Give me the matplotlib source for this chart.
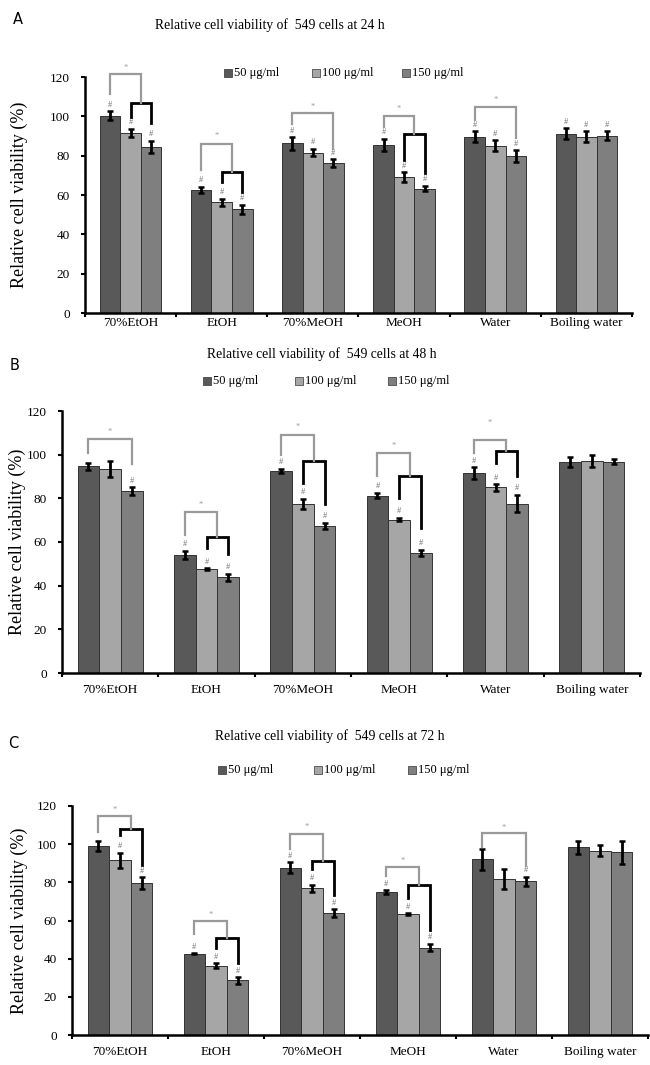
import matplotlib
matplotlib.use('Agg')
import matplotlib.pyplot as plt
import numpy as np

# ---------------- data ----------------
categories = ['70%EtOH', 'EtOH', '70%MeOH', 'MeOH', 'Water', 'Boiling water']
series_labels = ['50 μg/ml', '100 μg/ml', '150 μg/ml']
titles = ['Relative cell viability of  549 cells at 24 h',
          'Relative cell viability of  549 cells at 48 h',
          'Relative cell viability of  549 cells at 72 h']
panel_letters = ['A', 'B', 'C']
y_ticks = [0, 20, 40, 60, 80, 100, 120]

# 24 h
a_50 = [100.4, 62.6, 86.3, 85.6, 89.7, 91.2]
a_100 = [91.7, 56.2, 81.6, 69.2, 85.1, 89.7]
a_150 = [84.6, 52.8, 76.1, 63.3, 79.7, 90.2]
a_50_err = [2.2, 1.7, 3.2, 3.0, 2.9, 2.8]
a_100_err = [2.0, 2.0, 2.0, 2.4, 2.9, 2.9]
a_150_err = [3.0, 2.3, 2.1, 1.5, 3.0, 2.4]
a_hash = [[1, 1, 1], [1, 1, 1], [1, 1, 1], [1, 1, 1], [1, 1, 1], [1, 1, 1]]
a_bracket = ['nested', 'nested', 'pair', 'nested', 'pair', 'none']
a_gray = [[121.3, 111.5, 0], [85.7, 72.6, 0], [101.9, 95.9, 83.6], [100.2, 94.6, 0], [104.7, 98.0, 89.2], [0, 0, 0]]
a_black = [[107.0, 99.7, 96.6], [71.7, 66.7, 61.6], [0, 0, 0], [90.9, 77.7, 71.0], [0, 0, 0], [0, 0, 0]]
a_star = [124.7, 89.9, 104.7, 103.9, 108.5, 0]

# 48 h
b_50 = [94.7, 54.0, 92.6, 81.2, 91.6, 96.8]
b_100 = [93.3, 47.5, 77.3, 70.3, 85.0, 97.1]
b_150 = [83.4, 43.8, 67.4, 55.0, 77.6, 96.8]
b_50_err = [1.7, 2.0, 1.0, 1.2, 2.6, 2.3]
b_100_err = [3.7, 0.4, 2.4, 0.7, 1.5, 2.6]
b_150_err = [1.7, 1.7, 1.3, 1.4, 4.0, 1.0]
b_hash = [[0, 0, 1], [1, 1, 1], [1, 1, 1], [1, 1, 1], [1, 1, 1], [0, 0, 0]]
b_bracket = ['pair', 'nested', 'nested', 'nested', 'nested', 'none']
b_gray = [[107.2, 100.7, 95.6], [73.7, 63.1, 0], [109.2, 99.8, 0], [100.7, 90.4, 0], [106.7, 100.7, 0], [0, 0, 0]]
b_black = [[0, 0, 0], [62.3, 57.2, 54.6], [97.3, 87.0, 77.6], [90.4, 80.2, 66.2], [101.5, 96.4, 90.4], [0, 0, 0]]
b_star = [110.6, 77.1, 112.6, 103.8, 114.7, 0]

# 72 h
c_50 = [99.2, 42.6, 87.7, 74.9, 92.0, 98.4]
c_100 = [91.5, 36.3, 76.8, 63.5, 81.6, 96.5]
c_150 = [79.7, 28.6, 64.0, 45.8, 80.5, 95.7]
c_50_err = [2.7, 0.4, 2.7, 1.1, 5.4, 3.4]
c_100_err = [4.0, 1.4, 2.0, 0.4, 5.3, 2.9]
c_150_err = [3.1, 1.8, 2.0, 2.0, 2.5, 6.2]
c_hash = [[0, 1, 1], [1, 1, 1], [1, 1, 1], [1, 1, 1], [0, 0, 1], [0, 0, 0]]
c_bracket = ['nested', 'nested', 'nested', 'nested', 'pair', 'none']
c_gray = [[115.0, 106.4, 0], [60.0, 52.8, 0], [105.4, 97.6, 0], [88.0, 83.2, 0], [105.6, 98.4, 88.8], [0, 0, 0]]
c_black = [[108.0, 104.8, 89.1], [50.7, 45.6, 37.6], [91.2, 87.2, 73.6], [78.7, 72.0, 55.2], [0, 0, 0], [0, 0, 0]]
c_star = [118.1, 63.2, 108.8, 91.2, 108.6, 0]

# ---------------- style ----------------
W, H = 650, 1065
colors = ['#595959', '#a6a6a6', '#7f7f7f']
serif = ['Liberation Serif', 'DejaVu Serif']
plt.rcParams['font.family'] = serif

fig = plt.figure(figsize=(W / 100, H / 100), dpi=100)

def fx(px):
    return px / W

def fy(py):
    return 1 - py / H

# axes boxes in pixels: left, right, top(120), bottom(0)
boxes = [(85, 632, 77, 313), (62, 640, 411, 673), (72, 648, 806, 1035)]
title_pos = [(270, 25), (322, 354), (330, 736)]
letter_pos = [(18, 20), (15, 365), (13, 743)]
legend_y = [73, 381, 770]
legend_x = [(228, 316, 406), (207, 299, 392), (222, 318, 412)]
xlabel_pad = [3, 8, 8]
ylabel_x = [19, 17, 19]   # centre of the rotated y label, pixels

panels = [
    ([a_50, a_100, a_150], [a_50_err, a_100_err, a_150_err], a_hash, a_bracket, a_gray, a_black, a_star),
    ([b_50, b_100, b_150], [b_50_err, b_100_err, b_150_err], b_hash, b_bracket, b_gray, b_black, b_star),
    ([c_50, c_100, c_150], [c_50_err, c_100_err, c_150_err], c_hash, c_bracket, c_gray, c_black, c_star),
]

w = 0.225
x = np.arange(len(categories))
gray_col = '#9a9a9a'

for p, (vals, errs, hashes, btypes, gray, black, stars) in enumerate(panels):
    l, r, t, b = boxes[p]
    ax = fig.add_axes([fx(l), fy(b), fx(r) - fx(l), fy(t) - fy(b)])
    for k in range(3):
        xs = x + (k - 1) * w
        ax.bar(xs, vals[k], w, color=colors[k], edgecolor='#333333', linewidth=0.7, zorder=2)
        ax.errorbar(xs, vals[k], yerr=errs[k], fmt='none', ecolor='black',
                    elinewidth=2.0, capsize=2.5, capthick=1.8, zorder=3)
    for i in range(len(categories)):
        for k in range(3):
            if hashes[i][k]:
                ax.text(x[i] + (k - 1) * w, vals[k][i] + errs[k][i] + 1.2, '#',
                        ha='center', va='bottom', fontsize=6, color='#707070', zorder=4)
        bt = btypes[i]
        if bt == 'pair':
            g0, g1 = x[i] - w, x[i] + w
            ax.plot([g0, g0, g1, g1], [gray[i][1], gray[i][0], gray[i][0], gray[i][2]],
                    color=gray_col, lw=1.6, clip_on=False, zorder=4, solid_joinstyle='miter')
            ax.text((g0 + g1) / 2, stars[i], '*', ha='center', va='center',
                    fontsize=6, color=gray_col)
        elif bt == 'nested':
            b0, b1 = x[i], x[i] + w
            ax.plot([b0, b0, b1, b1], [black[i][1], black[i][0], black[i][0], black[i][2]],
                    color='black', lw=2.0, clip_on=False, zorder=4, solid_joinstyle='miter')
            g0, g1 = x[i] - w, (b0 + b1) / 2
            ax.plot([g0, g0, g1, g1], [gray[i][1], gray[i][0], gray[i][0], black[i][0]],
                    color=gray_col, lw=1.6, clip_on=False, zorder=4, solid_joinstyle='miter')
            ax.text((g0 + g1) / 2, stars[i], '*', ha='center', va='center',
                    fontsize=6, color=gray_col)

    ax.set_xlim(-0.5, len(categories) - 0.5)
    ax.set_ylim(0, 120)
    ax.set_yticks(y_ticks)
    ax.set_yticklabels([str(v) for v in y_ticks], fontsize=9.5)
    ax.set_xticks(np.arange(len(categories) + 1) - 0.5)
    ax.set_xticklabels([])
    ax.set_xticks(x, minor=True)
    ax.set_xticklabels(categories, minor=True, fontsize=9.5)
    ax.tick_params(axis='x', which='major', length=3, width=1.5, direction='out')
    ax.tick_params(axis='x', which='minor', length=0, pad=xlabel_pad[p])
    ax.tick_params(axis='y', length=3, width=1.5, direction='out', pad=8)
    for s in ['top', 'right']:
        ax.spines[s].set_visible(False)
    for s in ['left', 'bottom']:
        ax.spines[s].set_linewidth(1.8)
    ax.set_ylabel('Relative cell viability (%)', fontsize=13, va='center')
    lab_x_axes = (ylabel_x[p] - l) / (r - l)
    ax.yaxis.set_label_coords(lab_x_axes, 0.5)

    tx, ty = title_pos[p]
    fig.text(fx(tx), fy(ty), titles[p], ha='center', va='center', fontsize=9.8)
    lx, ly = letter_pos[p]
    fig.text(fx(lx), fy(ly), panel_letters[p], ha='center', va='center', fontsize=10.5,
             family=['DejaVu Sans'])
    for k in range(3):
        px = legend_x[p][k]
        fig.patches.append(plt.Rectangle((fx(px - 4), fy(legend_y[p] + 4)), fx(8), 8 / H,
                                         transform=fig.transFigure, facecolor=colors[k],
                                         edgecolor='#333333', linewidth=0.5))
        fig.text(fx(px + 6), fy(legend_y[p]), series_labels[k], ha='left', va='center', fontsize=9)

fig.savefig('out.png', dpi=100)
